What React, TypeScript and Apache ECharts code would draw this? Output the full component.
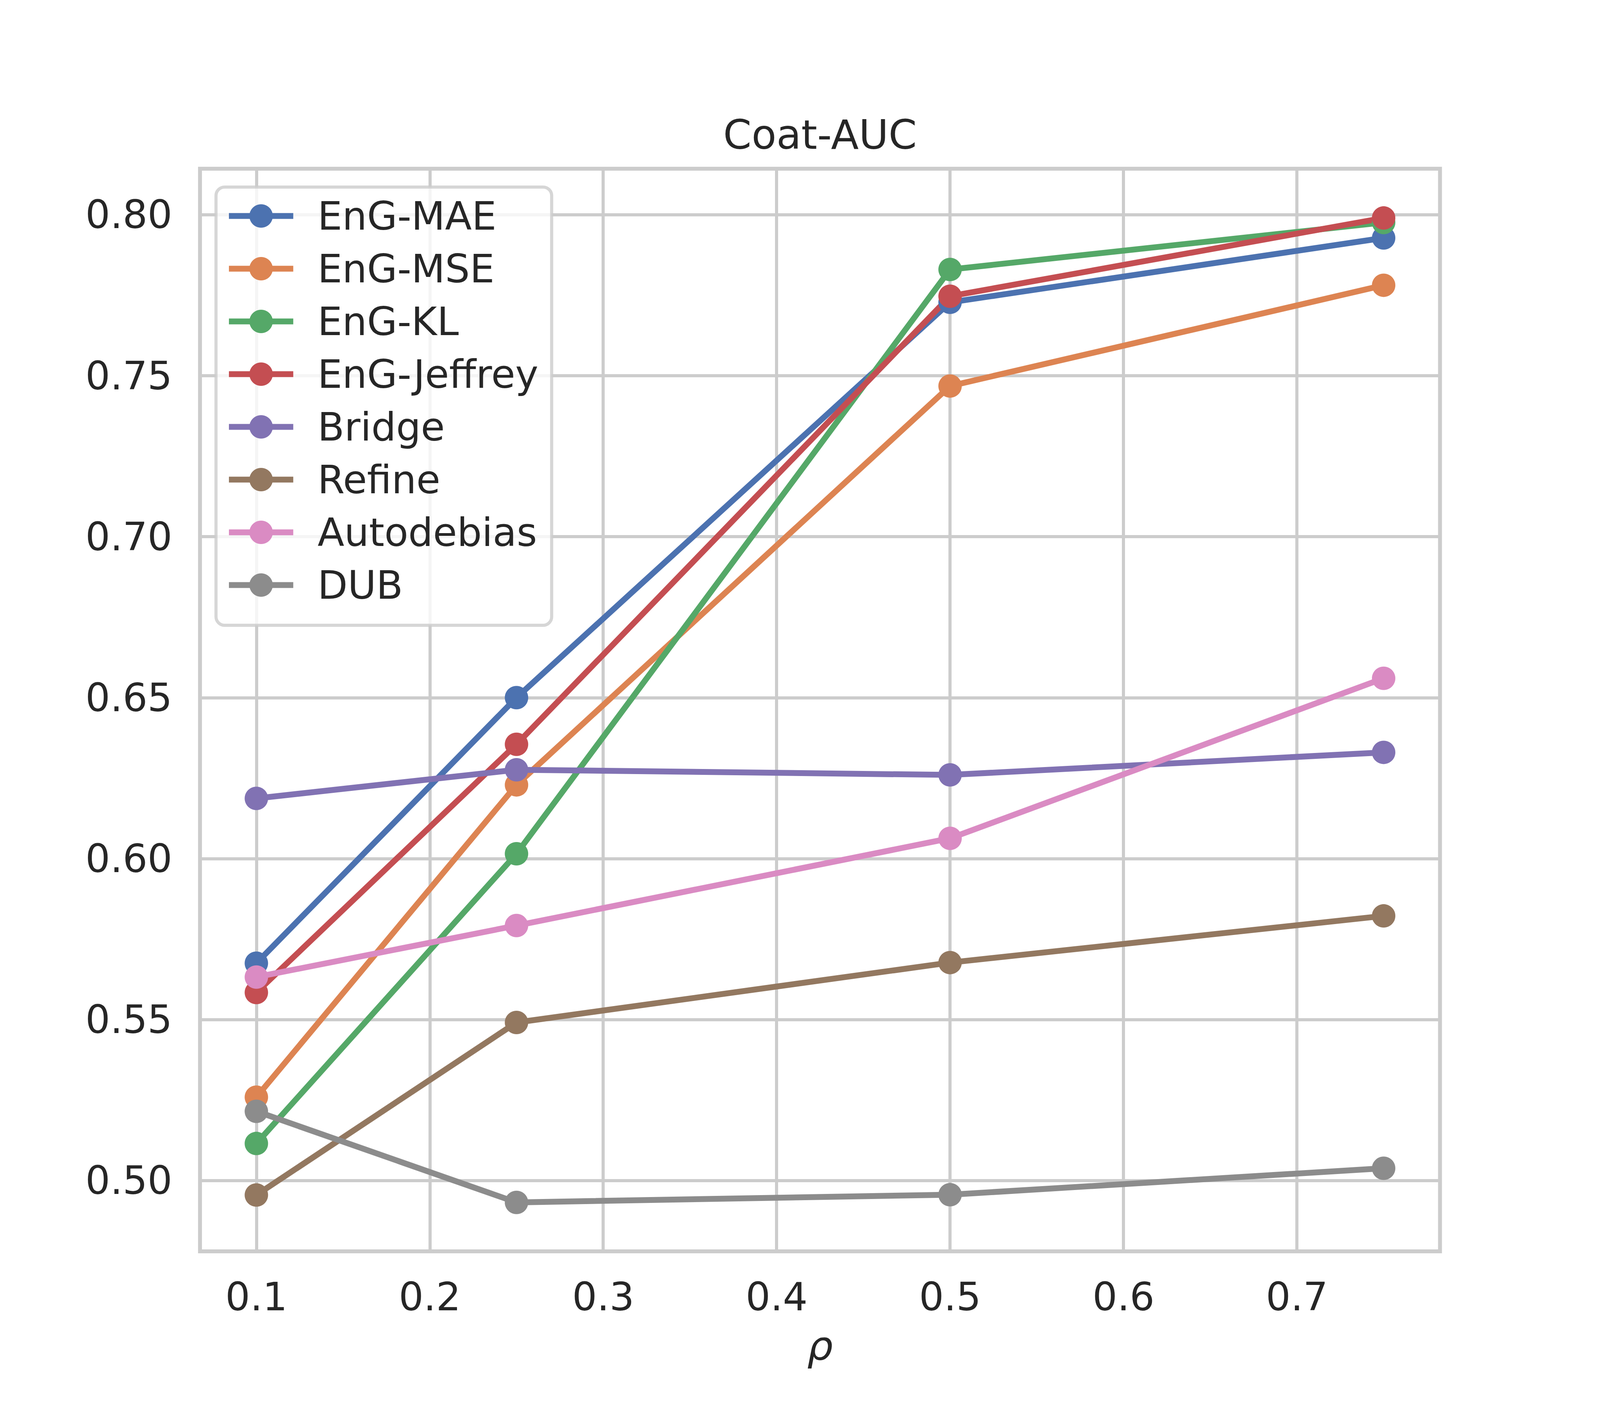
import React, { useEffect, useRef } from "react";
import * as echarts from "echarts";

const rhoValues = [0.1, 0.25, 0.5, 0.75];
const seriesNames = ["EnG-MAE", "EnG-MSE", "EnG-KL", "EnG-Jeffrey", "Bridge", "Refine", "Autodebias", "DUB"];
const seriesColors = ["#4C72B0", "#DD8452", "#55A868", "#C44E52", "#8172B3", "#937860", "#DA8BC3", "#8C8C8C"];
const engMae = [0.5675, 0.65, 0.7728, 0.7928];
const engMse = [0.5259, 0.6229, 0.7468, 0.7781];
const engKl = [0.5115, 0.6015, 0.783, 0.7976];
const engJeffrey = [0.5584, 0.6355, 0.7747, 0.799];
const bridge = [0.6187, 0.6276, 0.626, 0.633];
const refine = [0.4955, 0.5491, 0.5677, 0.5822];
const autodebias = [0.5632, 0.5792, 0.6063, 0.656];
const dub = [0.5215, 0.4932, 0.4956, 0.5038];
const seriesValues = [engMae, engMse, engKl, engJeffrey, bridge, refine, autodebias, dub];

const titleText = "Coat-AUC";
const xAxisName = "ρ";

const FONT = "DejaVu Sans";
const TEXT = "#262626";
const GRIDC = "#cccccc";

export default function App() {
  const ref = useRef<HTMLDivElement>(null);
  useEffect(() => {
    document.body.style.margin = "0";
    const el = ref.current!;
    const W = Math.min(4800, el.clientWidth || window.innerWidth || 4800);
    const sx = W / 4800;
    const chart = echarts.init(el, null, { renderer: "svg", width: W, height: 3600 });
    const series = seriesNames.map((name, i) => ({
      name,
      type: "line",
      data: rhoValues.map((x, j) => [x, seriesValues[i][j]]),
      symbol: "circle",
      symbolSize: 60,
      showSymbol: true,
      lineStyle: { width: 15, color: seriesColors[i] },
      itemStyle: { color: seriesColors[i] },
      emphasis: { disabled: true },
      z: 2,
    }));
    chart.setOption({
      animation: false,
      backgroundColor: "#ffffff",
      color: seriesColors,
      grid: {
        left: 600 * sx,
        right: 480 * sx,
        top: 432,
        bottom: 396,
        show: true,
        borderColor: GRIDC,
        borderWidth: 10,
        backgroundColor: "transparent",
      },
      xAxis: {
        type: "value",
        min: 0.0675,
        max: 0.7825,
        splitNumber: 7,
        minInterval: 0.1,
        maxInterval: 0.1,
        axisLine: { show: false },
        axisTick: { show: false },
        splitLine: { show: true, lineStyle: { color: GRIDC, width: 8 } },
        axisLabel: {
          showMinLabel: false,
          showMaxLabel: false,
          margin: 66,
          color: TEXT,
          fontFamily: FONT,
          fontSize: 100,
          formatter: (v: number) => v.toFixed(1),
        },
        name: xAxisName,
        nameLocation: "middle",
        nameGap: 190,
        nameTextStyle: { color: TEXT, fontFamily: FONT, fontSize: 104, fontStyle: "italic" },
      },
      yAxis: {
        type: "value",
        min: 0.478,
        max: 0.8143,
        splitNumber: 7,
        minInterval: 0.05,
        maxInterval: 0.05,
        axisLine: { show: false },
        axisTick: { show: false },
        splitLine: { show: true, lineStyle: { color: GRIDC, width: 8 } },
        axisLabel: {
          showMinLabel: false,
          showMaxLabel: false,
          margin: 83 * sx,
          color: TEXT,
          fontFamily: FONT,
          fontSize: 100,
          formatter: (v: number) => v.toFixed(2),
        },
      },
      legend: {
        show: true,
        orient: "vertical",
        left: 648 * sx,
        top: 479,
        data: seriesNames,
        itemWidth: 193 * sx,
        itemHeight: 75,
        itemGap: 35,
        padding: [24, 40 * sx, 53, 30 * sx],
        backgroundColor: "rgba(255,255,255,0.8)",
        borderColor: "rgba(204,204,204,0.8)",
        borderWidth: 8,
        borderRadius: 22,
        lineStyle: { width: 15 },
        textStyle: {
          color: TEXT,
          fontFamily: FONT,
          fontSize: 100,
          padding: [0, 0, 0, 67 * sx],
        },
        selectedMode: false,
      },
      graphic: [
        {
          type: "text",
          x: 2460 * sx,
          y: 345,
          style: {
            text: titleText,
            fill: TEXT,
            font: `104px "${FONT}"`,
            textAlign: "center",
            textVerticalAlign: "middle",
          },
        },
      ],
      series,
    });
    return () => chart.dispose();
  }, []);
  return <div ref={ref} style={{ width: "100%", maxWidth: 4800, height: 3600 }} />;
}
